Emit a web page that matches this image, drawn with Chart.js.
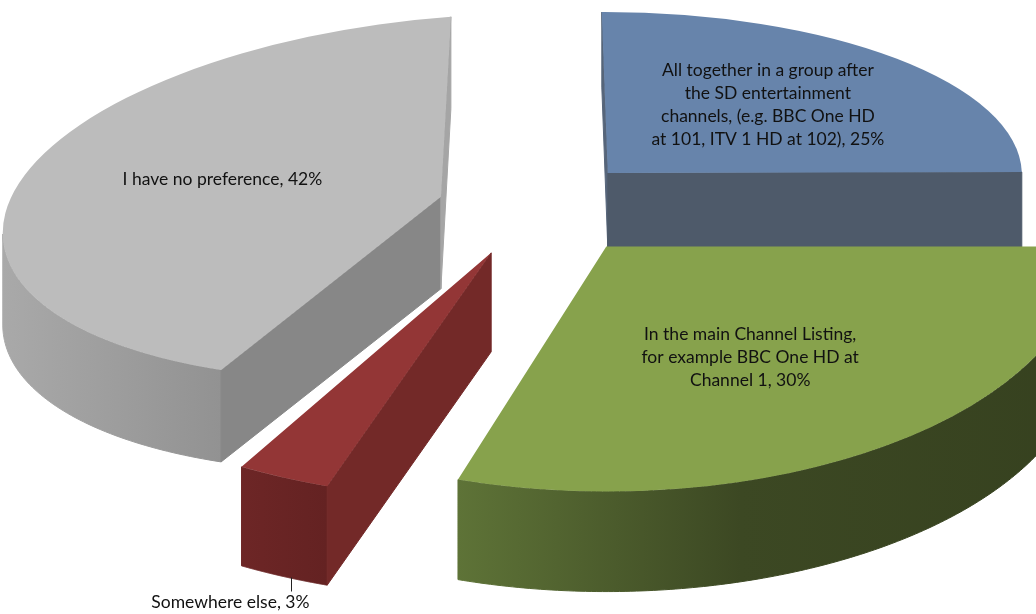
<!DOCTYPE html>
<html>
<head>
<meta charset="utf-8">
<title>HD channel position preference</title>
<script src="https://cdn.jsdelivr.net/npm/chart.js"></script>
<style>
  html, body { margin: 0; padding: 0; background: #fff; }
  canvas { display: block; }
</style>
</head>
<body>
<canvas id="prefChart" width="1036" height="614"></canvas>
<script>
// answers, clockwise from 12 o'clock
const categories = [
    ['All together in a group after', 'the SD entertainment', 'channels, (e.g. BBC One HD', 'at 101, ITV 1 HD at 102)'],
    ['In the main Channel Listing,', 'for example BBC One HD at', 'Channel 1'],
    ['Somewhere else'],
    ['I have no preference']
];
const shares = [25, 30, 3, 42];

const topColors = ['#6784ab', '#87a24c', '#933636', '#bcbcbc'];
// walls: face along the start edge, face along the end edge, rim gradient stops
const wallColors = [
    { start: '#56657a', end: '#4e5a6a', rim: [[0, '#4e5a6a'], [1, '#4e5a6a']] },
    { start: '#4b5a2a', end: '#4b5a2a', rim: [[0, '#5e7337'], [0.45, '#3c4823'], [1, '#36411f']] },
    { start: '#732928', end: '#732928', rim: [[0, '#6d2626'], [1, '#642222']] },
    { start: '#878787', end: '#a5a5a5', rim: [[0, '#a9a9a9'], [1, '#929292']] }
];

// per-slice tilt matrix (x' = a*x + b*y, y' = c*x + d*y), radius 1 -> px
const tilt = [
    [414, 6, -1, 161],
    [480, 0, 0, 245],
    [500, -10, 5, 247],
    [438, -10, -32, 180]
];
const depth = [75, 100, 99, 92];
const explode = 0.235;

// where each label sits: fraction of radius along the slice middle, nudges
const labelSpots = [
    { r: 0.555, dy: -5 },
    { r: 0.51, dy: 10 },
    { r: 1.0, z: 1, dx: 8, dy: 1, leader: 14, tx: -61, ty: 25 },
    { r: 0.518, dy: -10 }
];
const lineHeight = 23;

function project(arc, i, r, angle, z) {
    const m = tilt[i];
    const mid = (arc.startAngle + arc.endAngle) / 2;
    const ux = explode * Math.cos(mid) + r * Math.cos(angle);
    const uy = explode * Math.sin(mid) + r * Math.sin(angle);
    return {
        x: arc.x + m[0] * ux + m[1] * uy,
        y: arc.y + m[2] * ux + m[3] * uy + z * depth[i]
    };
}

function fillFace(ctx, pts, style) {
    ctx.beginPath();
    pts.forEach((p, k) => k ? ctx.lineTo(p.x, p.y) : ctx.moveTo(p.x, p.y));
    ctx.closePath();
    ctx.fillStyle = style;
    ctx.strokeStyle = style;
    ctx.lineWidth = 1;
    ctx.fill();
    ctx.stroke();
}

function drawWalls(ctx, arc, i) {
    const colors = wallColors[i];
    const a0 = arc.startAngle, a1 = arc.endAngle;
    const apex = project(arc, i, 0, 0, 0);
    const apexLow = project(arc, i, 0, 0, 1);

    // rim: only the stretches that turn towards the viewer
    const steps = 160;
    const runs = [];
    let run = null;
    for (let k = 0; k < steps; k++) {
        const t0 = a0 + (a1 - a0) * k / steps;
        const t1 = a0 + (a1 - a0) * (k + 1) / steps;
        if (project(arc, i, 1, t1, 0).x < project(arc, i, 1, t0, 0).x) {
            if (!run) { run = [t0]; runs.push(run); }
            run.push(t1);
        } else {
            run = null;
        }
    }
    runs.forEach(angles => {
        const top = angles.map(a => project(arc, i, 1, a, 0));
        const bottom = angles.map(a => project(arc, i, 1, a, 1)).reverse();
        const xs = top.map(p => p.x);
        const grad = ctx.createLinearGradient(Math.min(...xs), 0, Math.max(...xs), 0);
        colors.rim.forEach(([s, c]) => grad.addColorStop(s, c));
        fillFace(ctx, top.concat(bottom), grad);
    });

    // flat faces along the two cut edges
    const s = project(arc, i, 1, a0, 0);
    if (s.x < apex.x) {
        fillFace(ctx, [apex, s, project(arc, i, 1, a0, 1), apexLow], colors.start);
    }
    const e = project(arc, i, 1, a1, 0);
    if (apex.x < e.x) {
        fillFace(ctx, [e, apex, apexLow, project(arc, i, 1, a1, 1)], colors.end);
    }
}

function drawTop(ctx, arc, i) {
    const m = tilt[i];
    const R = arc.outerRadius;
    const mid = (arc.startAngle + arc.endAngle) / 2;
    const ex = explode * Math.cos(mid), ey = explode * Math.sin(mid);
    ctx.save();
    ctx.translate(arc.x + m[0] * ex + m[1] * ey, arc.y + m[2] * ex + m[3] * ey);
    ctx.transform(m[0] / R, m[2] / R, m[1] / R, m[3] / R, 0, 0);
    ctx.translate(-arc.x, -arc.y);
    arc.draw(ctx);
    ctx.restore();
}

// extruded, tilted pie drawn back to front
const pie3d = {
    id: 'pie3d',
    beforeDatasetsDraw(chart) {
        const ctx = chart.ctx;
        const arcs = chart.getDatasetMeta(0).data;
        const order = arcs.map((arc, i) => i)
            .sort((a, b) => project(arcs[a], a, 0, 0, 0).y - project(arcs[b], b, 0, 0, 0).y);
        order.forEach(i => {
            ctx.save();
            drawWalls(ctx, arcs[i], i);
            ctx.restore();
            drawTop(ctx, arcs[i], i);
        });
        return false;
    }
};

const sliceLabels = {
    id: 'sliceLabels',
    afterDraw(chart) {
        const ctx = chart.ctx;
        const arcs = chart.getDatasetMeta(0).data;
        ctx.save();
        ctx.font = '17.5px Lato, "Open Sans", sans-serif';
        ctx.fillStyle = '#111';
        ctx.textAlign = 'center';
        ctx.textBaseline = 'middle';
        arcs.forEach((arc, i) => {
            const spot = labelSpots[i];
            const mid = (arc.startAngle + arc.endAngle) / 2;
            const p = project(arc, i, spot.r, mid, spot.z || 0);
            let x = p.x + (spot.dx || 0), y = p.y + (spot.dy || 0);
            const lines = categories[i].slice();
            lines[lines.length - 1] += ', ' + shares[i] + '%';
            if (spot.leader) {
                ctx.strokeStyle = '#222';
                ctx.lineWidth = 1;
                ctx.beginPath();
                ctx.moveTo(Math.round(x) + 0.5, y);
                ctx.lineTo(Math.round(x) + 0.5, y + spot.leader);
                ctx.stroke();
                x += spot.tx;
                y += spot.ty;
            }
            const y0 = y - (lines.length - 1) * lineHeight / 2;
            lines.forEach((line, k) => ctx.fillText(line, x, y0 + k * lineHeight));
        });
        ctx.restore();
    }
};

new Chart(document.getElementById('prefChart'), {
    type: 'pie',
    data: {
        labels: categories,
        datasets: [{
            data: shares,
            backgroundColor: topColors,
            borderWidth: 0,
            radius: 100
        }]
    },
    options: {
        responsive: false,
        animation: false,
        layout: { padding: { left: 44, right: 0, top: 0, bottom: 214 } },
        plugins: {
            legend: { display: false },
            tooltip: { enabled: false }
        }
    },
    plugins: [pie3d, sliceLabels]
});
</script>
</body>
</html>
